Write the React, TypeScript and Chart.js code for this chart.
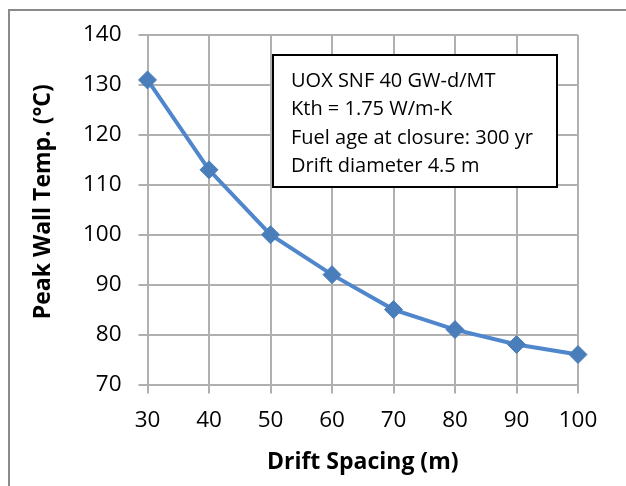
import React, { useEffect, useRef } from "react";
import { Chart, registerables } from "chart.js";

Chart.register(...registerables);

const driftSpacing = [30, 40, 50, 60, 70, 80, 90, 100];
const peakWallTemp = [131, 113, 100, 92, 85, 81, 78, 76];
const xRange = [30, 100];
const yRange = [70, 140];
const tickStep = 10;
const xTitle = "Drift Spacing (m)";
const yTitle = "Peak Wall Temp. (°C)";
const noteLines = [
  "UOX SNF 40 GW-d/MT",
  "Kth = 1.75 W/m-K",
  "Fuel age at closure: 300 yr",
  "Drift diameter 4.5 m",
];

const FONT = "'Open Sans', Lato, sans-serif";
const GRID = "#b0b0b0";

const decorPlugin = {
  id: "decor",
  afterDraw(chart: any) {
    const ctx = chart.ctx;
    const ca = chart.chartArea;
    ctx.save();
    // outer frame
    ctx.strokeStyle = "#8a8a8a";
    ctx.lineWidth = 2;
    ctx.strokeRect(9, 10, 800, 800);
    // y axis title (slightly above the plot centre, as in the source)
    ctx.save();
    ctx.translate(43, (ca.top + ca.bottom) / 2 - 8);
    ctx.rotate(-Math.PI / 2);
    ctx.fillStyle = "#000";
    ctx.font = `bold 23px ${FONT}`;
    ctx.textAlign = "center";
    ctx.textBaseline = "middle";
    ctx.fillText(yTitle, 0, 0);
    ctx.restore();
    // note box
    const bx = ca.left + 125.5;
    const by = ca.top + 20;
    const bw = 284;
    const bh = 132;
    ctx.fillStyle = "#ffffff";
    ctx.fillRect(bx, by, bw, bh);
    ctx.strokeStyle = "#000000";
    ctx.lineWidth = 2;
    ctx.strokeRect(bx, by, bw, bh);
    ctx.fillStyle = "#000000";
    ctx.font = `20px ${FONT}`;
    ctx.textAlign = "left";
    ctx.textBaseline = "alphabetic";
    noteLines.forEach((t, i) => {
      ctx.fillText(t, bx + 18, by + 31.7 + i * 28.4);
    });
    ctx.restore();
  },
};

export default function App() {
  const ref = useRef<HTMLCanvasElement | null>(null);
  useEffect(() => {
    const canvas = ref.current;
    if (!canvas) return;
    const chart = new Chart(canvas, {
      type: "line",
      data: {
        datasets: [
          {
            data: driftSpacing.map((x, i) => ({ x, y: peakWallTemp[i] })),
            borderColor: "#4f86cc",
            borderWidth: 4,
            backgroundColor: "#4a7ebb",
            pointBackgroundColor: "#4a7ebb",
            pointBorderColor: "#4a7ebb",
            pointBorderWidth: 1,
            pointStyle: "rectRot",
            pointRadius: 9,
            tension: 0,
            clip: false as any,
          },
        ],
      },
      options: {
        responsive: false,
        animation: false,
        events: [],
        layout: { padding: { left: 0, top: 35, right: 48, bottom: 0 } },
        plugins: {
          legend: { display: false },
          tooltip: { enabled: false },
        },
        scales: {
          x: {
            type: "linear",
            min: xRange[0],
            max: xRange[1],
            afterFit: (s: any) => {
              s.height = 101.5;
            },
            ticks: {
              stepSize: tickStep,
              color: "#000",
              padding: 14,
              font: { family: FONT, size: 22.5 },
            },
            grid: { color: GRID, lineWidth: 2, tickLength: 9, tickColor: GRID },
            border: { color: GRID, width: 2 },
            title: {
              display: true,
              text: xTitle,
              color: "#000",
              font: { family: FONT, size: 23, weight: "bold" },
              padding: { top: 0, bottom: 10 },
            },
          },
          y: {
            type: "linear",
            min: yRange[0],
            max: yRange[1],
            afterFit: (s: any) => {
              s.width = 147.5;
            },
            ticks: {
              stepSize: tickStep,
              color: "#000",
              padding: 17,
              font: { family: FONT, size: 22.5 },
            },
            grid: { color: GRID, lineWidth: 2, tickLength: 9, tickColor: GRID },
            border: { color: GRID, width: 2 },
            title: { display: false, text: yTitle },
          },
        },
      },
      plugins: [decorPlugin],
    });
    return () => chart.destroy();
  }, []);
  return (
    <div style={{ position: "fixed", left: 0, top: 0, width: 626, height: 486, background: "#fff" }}>
      <canvas ref={ref} width={626} height={486} style={{ display: "block" }} />
    </div>
  );
}
